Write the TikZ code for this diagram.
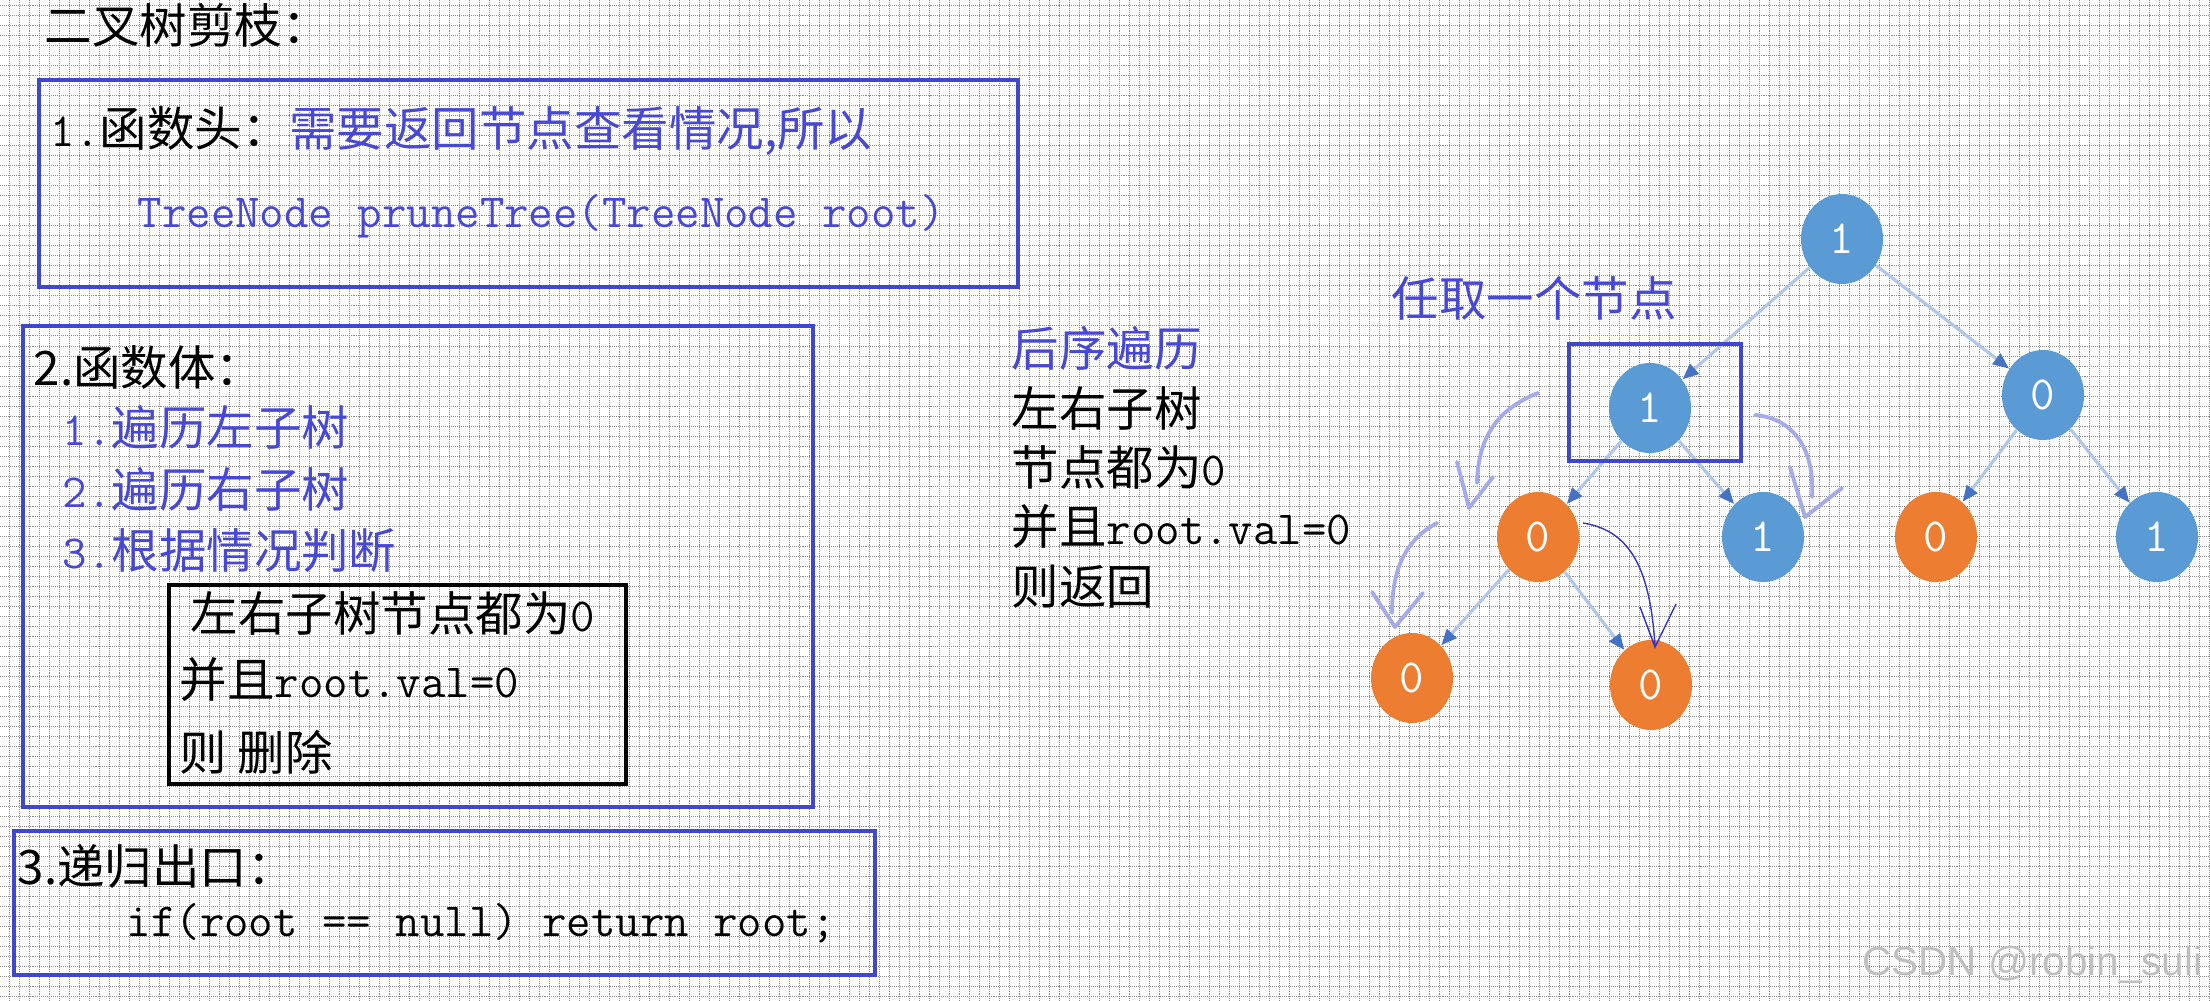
\documentclass[tikz,border=0pt]{standalone}
\usepackage{fontspec}
\usepackage{xcolor}
\usepackage{tikz}
\usetikzlibrary{shapes.geometric,arrows.meta}

\newfontfamily\cjk{Noto Sans CJK SC}
\newfontfamily\wmfont{Liberation Sans}

\definecolor{boxblue}{RGB}{63,72,204}
\definecolor{txtblue}{RGB}{72,72,214}
\definecolor{nodeblue}{RGB}{91,155,213}
\definecolor{nodeorange}{RGB}{237,125,49}
\definecolor{edgeblue}{RGB}{176,198,234}
\definecolor{tipblue}{RGB}{68,114,196}
\definecolor{penblue}{RGB}{165,170,234}
\definecolor{inkblue}{RGB}{52,52,196}

\begin{document}
\begin{tikzpicture}[x=0.01cm,y=-0.01cm,
    gridline/.style={black!45,line width=0.28pt,dash pattern=on 0.28pt off 0.28pt},
    frame/.style={draw=boxblue,line width=1.1pt},
    txt/.style={font=\cjk\fontsize{13.5}{16}\selectfont,inner sep=0pt,anchor=west},
    tnode/.style={ellipse,minimum width=0.82cm,minimum height=0.9cm,inner sep=0pt,
        text=white,font=\ttfamily\fontsize{13.5}{13}\selectfont},
    bluenode/.style={tnode,fill=nodeblue},
    orangenode/.style={tnode,fill=nodeorange},
    link/.style={edgeblue,line width=0.9pt,-{Triangle[length=0.16cm,width=0.13cm,color=tipblue]}},
    pen/.style={penblue,line width=1.1pt,line cap=round,line join=round},
    ink/.style={inkblue,line width=0.4pt}]

    \fill[white] (0,0) rectangle (2210,1001);
    \useasboundingbox (0,0) rectangle (2210,1001);

    % background grid
    \foreach \gx in {9,19,...,2209}
        \draw[gridline] (\gx,0) -- (\gx,1001);
    \foreach \gy in {6,16,...,996}
        \draw[gridline] (0,\gy) -- (2210,\gy);

    % left column
    \node[txt] (title) at (44,25) {二叉树剪枝：};

    \draw[frame] (39,80) rectangle (1018,287);
    \node[txt] (head1) at (50,131) {{\ttfamily 1.}函数头：\textcolor{txtblue}{需要返回节点查看情况,所以}};
    \node[txt,text=txtblue] (sig) at (137,216) {\ttfamily TreeNode pruneTree(TreeNode root)};

    \draw[frame] (23,326) rectangle (813,807);
    \node[txt] (head2) at (33,368) {2.函数体：};
    \node[txt,text=txtblue] (step1) at (62,427) {{\ttfamily 1.}遍历左子树};
    \node[txt,text=txtblue] (step2) at (62,489) {{\ttfamily 2.}遍历右子树};
    \node[txt,text=txtblue] (step3) at (62,551) {{\ttfamily 3.}根据情况判断};
    \draw[black,line width=1.1pt] (169,585) rectangle (626,784);
    \node[txt] (cond1) at (190,613) {左右子树节点都为{\ttfamily 0}};
    \node[txt] (cond2) at (179,680) {并且{\ttfamily root.val=0}};
    \node[txt] (cond3) at (179,752) {则 删除};

    \draw[frame] (14,831) rectangle (875,975);
    \node[txt] (head3) at (17,866) {3.递归出口：};
    \node[txt] (exit) at (126,923) {\ttfamily if(root == null) return root;};

    % middle notes
    \node[txt,text=txtblue] (post) at (1011,348) {后序遍历};
    \node[txt] (rule1) at (1011,408) {左右子树};
    \node[txt] (rule2) at (1011,467) {节点都为{\ttfamily 0}};
    \node[txt] (rule3) at (1011,527) {并且{\ttfamily root.val=0}};
    \node[txt] (rule4) at (1011,587) {则返回};
    \node[txt,text=txtblue] (pick) at (1391,298) {任取一个节点};

    % tree
    \node[bluenode] (r1) at (1842,239) {1};
    \node[bluenode] (a1) at (1650,408) {1};
    \node[bluenode] (b0) at (2043,395) {0};
    \node[orangenode] (c0) at (1538,537) {0};
    \node[bluenode] (d1) at (1763,537) {1};
    \node[orangenode] (e0) at (1936,537) {0};
    \node[bluenode] (f1) at (2157,537) {1};
    \node[orangenode] (g0) at (1412,678) {0};
    \node[orangenode] (h0) at (1651,685) {0};

    \draw[link] (r1) -- (a1);
    \draw[link] (r1) -- (b0);
    \draw[link] (a1) -- (c0);
    \draw[link] (a1) -- (d1);
    \draw[link] (b0) -- (e0);
    \draw[link] (b0) -- (f1);
    \draw[link] (c0) -- (g0);
    \draw[link] (c0) -- (h0);

    \draw[frame] (1569,344) rectangle (1741,461);

    % hand drawn arrows
    \draw[pen] (1538,393) .. controls (1495,410) and (1478,440) .. (1477,483);
    \draw[pen] (1457,462) -- (1469,508) -- (1493,477);
    \draw[pen] (1437,523) .. controls (1405,540) and (1392,570) .. (1392,613);
    \draw[pen] (1372,592) -- (1395,627) -- (1423,593);
    \draw[pen] (1755,415) .. controls (1790,418) and (1815,445) .. (1812,497);
    \draw[pen] (1790,467) -- (1805,517) -- (1842,488);
    \draw[ink] (1583,523) .. controls (1625,530) and (1650,560) .. (1655,647);
    \draw[ink] (1640,607) -- (1655,647) -- (1676,604);

    \node[anchor=east,inner sep=0pt,text=black!25,font=\wmfont\fontsize{11.5}{12}\selectfont] (mark) at (2203,965) {CSDN @robin\_suli};
\end{tikzpicture}
\end{document}
